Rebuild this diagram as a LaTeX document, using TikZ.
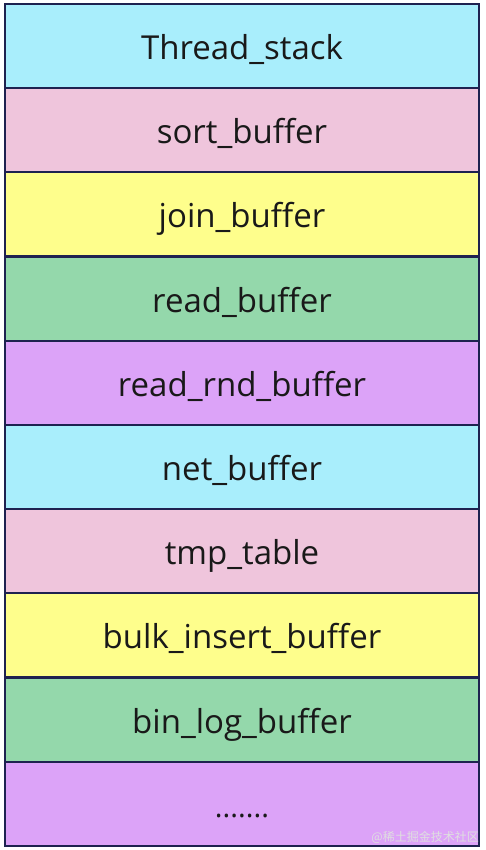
\documentclass[tikz,border=0pt]{standalone}
\usepackage{fontspec}
\setmainfont{Open Sans}
\newfontfamily\cjk{Noto Sans CJK SC}
\usetikzlibrary{positioning}
\definecolor{rowcyan}{HTML}{A9EEFC}
\definecolor{rowpink}{HTML}{EFC5DC}
\definecolor{rowyellow}{HTML}{FEFE8C}
\definecolor{rowgreen}{HTML}{94D8AB}
\definecolor{rowpurple}{HTML}{DCA3F8}
\definecolor{rowline}{HTML}{1E2250}

\begin{document}
\begin{tikzpicture}[x=1pt, y=1pt,
  row/.style={draw=rowline, line width=2.2pt, minimum width=474pt, minimum height=84.2pt,
    inner sep=0pt, outer sep=0pt, text height=27pt, text depth=0pt,
    font=\fontsize{33}{38}\selectfont, text=black!90}]
  \useasboundingbox[fill=white] (0,0) rectangle (485,850);

  % memory areas, top to bottom
  \node[row, fill=rowcyan, anchor=north west] (stack) at (5,846) {Thread\_stack};
  \node[row, fill=rowpink, below=0pt of stack] (sortbuf) {sort\_buffer};
  \node[row, fill=rowyellow, below=0pt of sortbuf] (joinbuf) {join\_buffer};
  \node[row, fill=rowgreen, below=0pt of joinbuf] (readbuf) {read\_buffer};
  \node[row, fill=rowpurple, below=0pt of readbuf] (rndbuf) {read\_rnd\_buffer};
  \node[row, fill=rowcyan, below=0pt of rndbuf] (netbuf) {net\_buffer};
  \node[row, fill=rowpink, below=0pt of netbuf] (tmptab) {tmp\_table};
  \node[row, fill=rowyellow, below=0pt of tmptab] (bulkbuf) {bulk\_insert\_buffer};
  \node[row, fill=rowgreen, below=0pt of bulkbuf] (binbuf) {bin\_log\_buffer};
  \node[row, fill=rowpurple, below=0pt of binbuf, font=\fontsize{29}{34}\selectfont] (more) {.......};

  % watermark
  \node[anchor=south east, font=\cjk\fontsize{12}{14}\selectfont, text=white!75!gray, inner sep=0pt] (mark) at (479,6) {@稀土掘金技术社区};
\end{tikzpicture}
\end{document}
